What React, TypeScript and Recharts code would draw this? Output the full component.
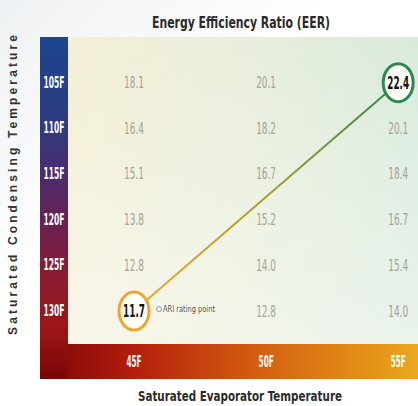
import React from "react";
import { ScatterChart, Scatter, XAxis, YAxis } from "recharts";

// evaporator temps (columns) and condensing temps (rows)
const evapTemps = [45, 50, 55];
const evapLabels = ["45F", "50F", "55F"];
const condTemps = [105, 110, 115, 120, 125, 130];
const condLabels = ["105F", "110F", "115F", "120F", "125F", "130F"];

// EER read top to bottom (105F -> 130F)
const eerAt45 = [18.1, 16.4, 15.1, 13.8, 12.8, 11.7];
const eerAt50 = [20.1, 18.2, 16.7, 15.2, 14.0, 12.8];
const eerAt55 = [22.4, 20.1, 18.4, 16.7, 15.4, 14.0];

const ariPoint = { x: 45, y: 130 };
const bestPoint = { x: 55, y: 105 };

const eerColumns = [eerAt45, eerAt50, eerAt55];

const cells = evapTemps.flatMap((x, i) =>
  condTemps.map((y, j) => ({
    x,
    y,
    eer: eerColumns[i][j],
    kind:
      x === ariPoint.x && y === ariPoint.y
        ? "ari"
        : x === bestPoint.x && y === bestPoint.y
        ? "best"
        : "plain",
  }))
);

const trend = [ariPoint, bestPoint];

const W = 418;
const H = 406;
const MARGIN = { top: 37, right: 0, bottom: 27, left: 40 };
const Y_AXIS_W = 28;
const X_AXIS_H = 35;
const plotX = MARGIN.left + Y_AXIS_W;
const plotY = MARGIN.top;
const plotW = W - plotX - MARGIN.right;
const plotH = H - MARGIN.top - MARGIN.bottom - X_AXIS_H;

const NARROW = '"Liberation Sans Narrow", "DejaVu Sans Condensed", "Liberation Sans", sans-serif';
const SANS = '"Liberation Sans", Arial, sans-serif';

const squeeze = (cx: number, cy: number, k: number) =>
  `translate(${cx} ${cy}) scale(${k} 1) translate(${-cx} ${-cy})`;

const YTick = (props: any) => {
  const { x, y, payload } = props;
  const label = condLabels[condTemps.indexOf(payload.value)];
  return (
    <text
      x={x}
      y={y}
      textAnchor="middle"
      dominantBaseline="central"
      fill="#ffffff"
      fontFamily={NARROW}
      fontWeight="bold"
      fontSize={15}
      textLength={21}
      lengthAdjust="spacingAndGlyphs"
    >
      {label}
    </text>
  );
};

const XTick = (props: any) => {
  const { x, y, payload } = props;
  const label = evapLabels[evapTemps.indexOf(payload.value)];
  return (
    <text
      x={x}
      y={y + 18}
      textAnchor="middle"
      dominantBaseline="central"
      fill="#ffffff"
      fontFamily={NARROW}
      fontWeight="bold"
      fontSize={15}
      textLength={15}
      lengthAdjust="spacingAndGlyphs"
    >
      {label}
    </text>
  );
};

const ValueMark = (props: any) => {
  const { cx, cy, payload } = props;
  if (cx == null || cy == null) return <g />;
  const label = payload.eer.toFixed(1);
  if (payload.kind === "plain") {
    return (
      <text
        x={cx}
        y={cy}
        textAnchor="middle"
        dominantBaseline="central"
        fill="#a3a199"
        fontFamily={NARROW}
        fontSize={16}
        transform={squeeze(cx, cy, 0.62)}
      >
        {label}
      </text>
    );
  }
  const ring = payload.kind === "ari" ? "#f0a52a" : "#2d8a4f";
  return (
    <g>
      <ellipse cx={cx} cy={cy} rx={15} ry={19} fill="#fffef9" stroke={ring} strokeWidth={3} />
      <text
        x={cx}
        y={cy}
        textAnchor="middle"
        dominantBaseline="central"
        fill="#111111"
        fontFamily={NARROW}
        fontWeight="bold"
        fontSize={17}
        transform={squeeze(cx, cy, 0.58)}
      >
        {label}
      </text>
      {payload.kind === "ari" && (
        <g>
          <circle cx={cx + 25} cy={cy - 2} r={2.5} fill="none" stroke="#999" strokeWidth={1} />
          <text
            x={cx + 29}
            y={cy - 2}
            dominantBaseline="central"
            fill="#555555"
            fontFamily={NARROW}
            fontSize={9}
            textLength={52}
            lengthAdjust="spacingAndGlyphs"
          >
            ARI rating point
          </text>
        </g>
      )}
    </g>
  );
};

const NoDot = () => <g />;

export default function App() {
  return (
    <div style={{ position: "absolute", left: 0, top: 0, width: W, height: H, background: "#ffffff" }}>
      <svg width={W} height={H} style={{ position: "absolute", left: 0, top: 0 }}>
        <defs>
          <linearGradient id="pageBg" x1="0" y1="0" x2="1" y2="1">
            <stop offset="0%" stopColor="#eef1f3" />
            <stop offset="40%" stopColor="#ffffff" />
          </linearGradient>
          <linearGradient id="plotBg" x1="0" y1="0" x2="1" y2="0">
            <stop offset="0%" stopColor="#f4efd6" />
            <stop offset="50%" stopColor="#e9eedb" />
            <stop offset="100%" stopColor="#d9eadd" />
          </linearGradient>
          <linearGradient id="plotFade" x1="0" y1="0" x2="0" y2="1">
            <stop offset="0%" stopColor="#ffffff" stopOpacity={0} />
            <stop offset="100%" stopColor="#ffffff" stopOpacity={0.45} />
          </linearGradient>
          <linearGradient id="condBand" x1="0" y1="0" x2="0" y2="1">
            <stop offset="0%" stopColor="#1c4590" />
            <stop offset="25%" stopColor="#2e3b80" />
            <stop offset="40%" stopColor="#4a2c6e" />
            <stop offset="55%" stopColor="#6a2050" />
            <stop offset="70%" stopColor="#8a1c30" />
            <stop offset="85%" stopColor="#9c1616" />
            <stop offset="100%" stopColor="#7a0606" />
          </linearGradient>
          <linearGradient id="evapBand" x1="0" y1="0" x2="1" y2="0">
            <stop offset="0%" stopColor="#7a0606" />
            <stop offset="25%" stopColor="#b41e0c" />
            <stop offset="55%" stopColor="#d25a10" />
            <stop offset="85%" stopColor="#e38e16" />
            <stop offset="100%" stopColor="#eaa820" />
          </linearGradient>
          <linearGradient id="eerTrend" x1="0" y1="1" x2="1" y2="0">
            <stop offset="0%" stopColor="#f2a62c" />
            <stop offset="50%" stopColor="#a8a030" />
            <stop offset="100%" stopColor="#2e8a44" />
          </linearGradient>
        </defs>
        <rect x={0} y={0} width={W} height={H} fill="url(#pageBg)" />
        <rect x={MARGIN.left} y={plotY + plotH} width={W - MARGIN.left} height={X_AXIS_H} fill="url(#evapBand)" />
        <rect x={MARGIN.left} y={plotY} width={Y_AXIS_W} height={plotH + X_AXIS_H} fill="url(#condBand)" />
        <rect x={plotX} y={plotY} width={plotW} height={plotH} fill="url(#plotBg)" />
        <rect x={plotX} y={plotY} width={plotW} height={plotH} fill="url(#plotFade)" />
        <text
          x={241}
          y={22}
          textAnchor="middle"
          dominantBaseline="central"
          fill="#2b2b2b"
          fontFamily={NARROW}
          fontWeight="bold"
          fontSize={16}
          textLength={178}
          lengthAdjust="spacingAndGlyphs"
        >
          Energy Efficiency Ratio (EER)
        </text>
        <text
          x={13}
          y={185}
          textAnchor="middle"
          dominantBaseline="central"
          fill="#333333"
          fontFamily={SANS}
          fontWeight="bold"
          fontSize={12}
          textLength={300}
          lengthAdjust="spacing"
          transform="rotate(-90 13 185)"
        >
          Saturated Condensing Temperature
        </text>
        <text
          x={240}
          y={396}
          textAnchor="middle"
          dominantBaseline="central"
          fill="#2b2b2b"
          fontFamily={NARROW}
          fontWeight="bold"
          fontSize={14}
          textLength={204}
          lengthAdjust="spacingAndGlyphs"
        >
          Saturated Evaporator Temperature
        </text>
      </svg>
      <div style={{ position: "absolute", left: 0, top: 0 }}>
        <ScatterChart width={W} height={H} margin={MARGIN}>
          <XAxis
            type="number"
            dataKey="x"
            domain={[42.5, 55.75]}
            ticks={evapTemps}
            height={X_AXIS_H}
            axisLine={false}
            tickLine={false}
            tickSize={0}
            tickMargin={0}
            tick={<XTick />}
            allowDataOverflow
          />
          <YAxis
            type="number"
            dataKey="y"
            domain={[100, 133.6]}
            ticks={condTemps}
            reversed
            width={Y_AXIS_W}
            axisLine={false}
            tickLine={false}
            tickSize={0}
            tickMargin={14}
            tick={<YTick />}
            allowDataOverflow
          />
          <Scatter
            data={trend}
            shape={<NoDot />}
            line={{ stroke: "url(#eerTrend)", strokeWidth: 2 }}
            isAnimationActive={false}
          />
          <Scatter data={cells} shape={<ValueMark />} isAnimationActive={false} />
        </ScatterChart>
      </div>
    </div>
  );
}
